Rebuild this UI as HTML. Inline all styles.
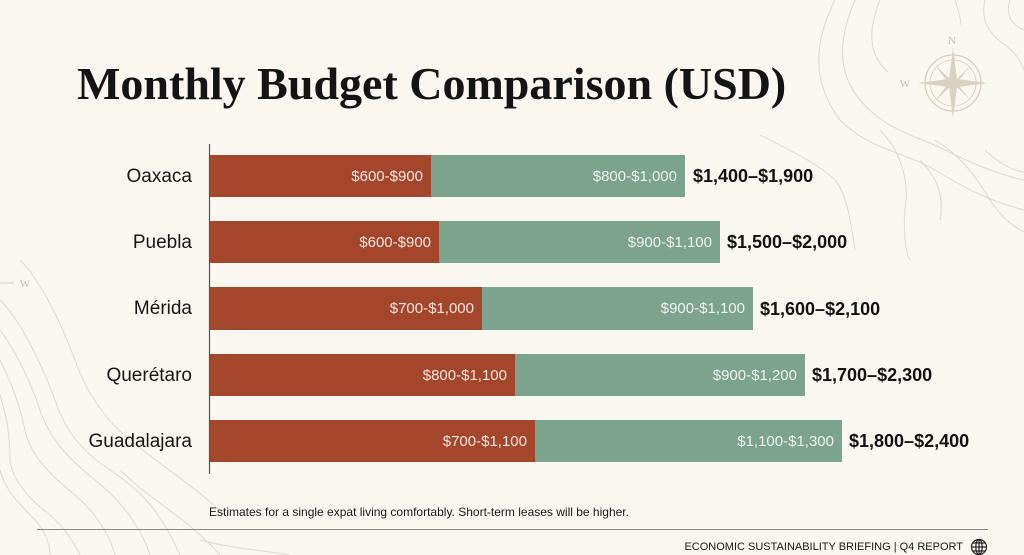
<!DOCTYPE html>
<html><head><meta charset="utf-8"><style>
*{margin:0;padding:0;box-sizing:border-box}
html,body{width:1024px;height:555px;overflow:hidden;background:#f9f7f0}
body{position:relative;font-family:"Liberation Sans",Arial,sans-serif;color:#151515}
.abs{position:absolute}
.title{left:77px;top:58px;font-family:"Liberation Serif",serif;font-weight:bold;font-size:46px;line-height:52px;white-space:nowrap;letter-spacing:0px;color:#141414}
.city{position:absolute;right:832px;font-size:19px;line-height:22px;text-align:right;white-space:nowrap;color:#161616}
.bar{position:absolute;left:210px;height:42px}
.red{position:absolute;left:0;top:0;height:100%;background:#a4462b}
.grn{position:absolute;top:0;height:100%;background:#7ba38e}
.lbl{position:absolute;right:8px;top:1px;line-height:42px;font-size:15px;color:rgba(255,255,255,0.86);white-space:nowrap}
.tot{position:absolute;font-size:18px;font-weight:bold;line-height:22px;white-space:nowrap;color:#121212}
</style></head><body>
<svg class="abs" style="left:0;top:0" width="1024" height="555" viewBox="0 0 1024 555">
<g fill="none" stroke="#e0dacd" stroke-width="1">
<path d="M835 0 C 815 40, 810 80, 840 120 C 870 150, 900 150, 935 170 C 960 185, 985 200, 1024 210"/>
<path d="M855 0 C 840 35, 835 70, 860 100 C 885 130, 915 135, 945 150 C 975 165, 1000 175, 1024 180"/>
<path d="M880 0 C 868 30, 868 55, 888 72"/>
<path d="M955 0 C 958 10, 962 20, 960 25"/>
<path d="M985 0 C 980 20, 990 35, 1005 45 C 1015 52, 1020 60, 1024 70"/>
<path d="M1010 0 C 1005 15, 1012 25, 1024 30"/>
<path d="M935 140 C 960 155, 975 175, 990 200 C 1000 215, 1010 225, 1024 232"/>
<path d="M985 150 C 995 160, 1010 170, 1024 172"/>
<path d="M760 135 C 790 150, 820 165, 835 180 C 848 195, 852 230, 855 250"/>
<path d="M880 130 C 900 150, 910 180, 905 210 C 903 230, 906 255, 910 260"/>
<path d="M920 160 C 935 175, 945 195, 940 220"/>
<path d="M0 300 C 20 320, 40 360, 55 400 C 65 430, 80 450, 110 470 C 140 490, 160 510, 180 555"/>
<path d="M0 330 C 15 350, 30 380, 40 410 C 50 440, 70 460, 95 480 C 120 500, 140 525, 150 555"/>
<path d="M0 360 C 10 380, 20 405, 25 430 C 30 455, 50 475, 75 495 C 95 512, 110 535, 115 555"/>
<path d="M0 395 C 8 420, 10 440, 10 460 C 12 480, 30 500, 50 515 C 65 528, 75 545, 80 555"/>
<path d="M0 470 C 5 490, 20 505, 35 520 C 45 530, 50 545, 50 555"/>
<path d="M20 260 C 40 280, 60 320, 75 360 C 85 390, 105 420, 130 440 C 160 465, 200 490, 230 520"/>
<path d="M120 470 C 150 500, 190 520, 220 555"/>
<path d="M200 540 C 230 548, 260 550, 290 555"/>
</g>
<g stroke="#d6cebe" fill="none">
<circle cx="953" cy="83" r="28" stroke-width="1.2"/>
<circle cx="953" cy="83" r="23" stroke-width="0.8"/>
</g>
<g fill="#d9d1c2">
<polygon points="953,48 957,79 953,83 949,79"/>
<polygon points="953,118 957,87 953,83 949,87"/>
<polygon points="918,83 949,79 953,83 949,87"/>
<polygon points="988,83 957,79 953,83 957,87"/>
<polygon points="935,65 951,80 953,83 950,85"/>
<polygon points="971,65 956,80 953,83 955,85"/>
<polygon points="935,101 951,86 953,83 950,81"/>
<polygon points="971,101 956,86 953,83 955,81"/>
</g>
<text x="952" y="44" font-family="Liberation Serif,serif" font-size="11" fill="#c9c1b2" text-anchor="middle">N</text>
<text x="905" y="87" font-family="Liberation Serif,serif" font-size="11" fill="#c9c1b2" text-anchor="middle">W</text>
<line x1="0" y1="283" x2="14" y2="283" stroke="#d6cebe"/>
<text x="25" y="287" font-family="Liberation Serif,serif" font-size="11" fill="#c9c1b2" text-anchor="middle">W</text>
<line x1="209.5" y1="144" x2="209.5" y2="474" stroke="#555" stroke-width="1.2"/>
<line x1="37" y1="529.5" x2="988" y2="529.5" stroke="#8a8a86" stroke-width="1"/>
<g stroke="#222" stroke-width="1.2" fill="none">
<circle cx="979" cy="547" r="7.5"/>
<ellipse cx="979" cy="547" rx="3.2" ry="7.5"/>
<line x1="971.5" y1="547" x2="986.5" y2="547"/>
<line x1="972.5" y1="543" x2="985.5" y2="543"/>
<line x1="972.5" y1="551" x2="985.5" y2="551"/>
<line x1="979" y1="539.5" x2="979" y2="554.5"/>
</g>
</svg>

<div class="abs title">Monthly Budget Comparison (USD)</div>

<div class="city" style="top:166px">Oaxaca</div>
<div class="city" style="top:232px">Puebla</div>
<div class="city" style="top:298px">Mérida</div>
<div class="city" style="top:365px">Querétaro</div>
<div class="city" style="top:431px">Guadalajara</div>

<div class="bar" style="top:155px;width:475px">
  <div class="red" style="width:221px"><span class="lbl">$600-$900</span></div>
  <div class="grn" style="left:221px;width:254px"><span class="lbl">$800-$1,000</span></div>
</div>
<div class="tot" style="left:693px;top:165px">$1,400–$1,900</div>

<div class="bar" style="top:221px;width:510px">
  <div class="red" style="width:229px"><span class="lbl">$600-$900</span></div>
  <div class="grn" style="left:229px;width:281px"><span class="lbl">$900-$1,100</span></div>
</div>
<div class="tot" style="left:727px;top:231px">$1,500–$2,000</div>

<div class="bar" style="top:287px;width:543px;height:43px">
  <div class="red" style="width:272px"><span class="lbl">$700-$1,000</span></div>
  <div class="grn" style="left:272px;width:271px"><span class="lbl">$900-$1,100</span></div>
</div>
<div class="tot" style="left:760px;top:298px">$1,600–$2,100</div>

<div class="bar" style="top:354px;width:595px">
  <div class="red" style="width:305px"><span class="lbl">$800-$1,100</span></div>
  <div class="grn" style="left:305px;width:290px"><span class="lbl">$900-$1,200</span></div>
</div>
<div class="tot" style="left:812px;top:364px">$1,700–$2,300</div>

<div class="bar" style="top:420px;width:632px">
  <div class="red" style="width:325px"><span class="lbl">$700-$1,100</span></div>
  <div class="grn" style="left:325px;width:307px"><span class="lbl">$1,100-$1,300</span></div>
</div>
<div class="tot" style="left:849px;top:430px">$1,800–$2,400</div>

<div class="abs" style="left:209px;top:505px;font-size:12px;line-height:14px;white-space:nowrap;color:#1a1a1a">Estimates for a single expat living comfortably. Short-term leases will be higher.</div>

<div class="abs" style="right:61px;top:540px;font-size:11px;line-height:14px;white-space:nowrap;letter-spacing:0px;color:#1a1a1a">ECONOMIC SUSTAINABILITY BRIEFING | Q4 REPORT</div>
</body></html>
